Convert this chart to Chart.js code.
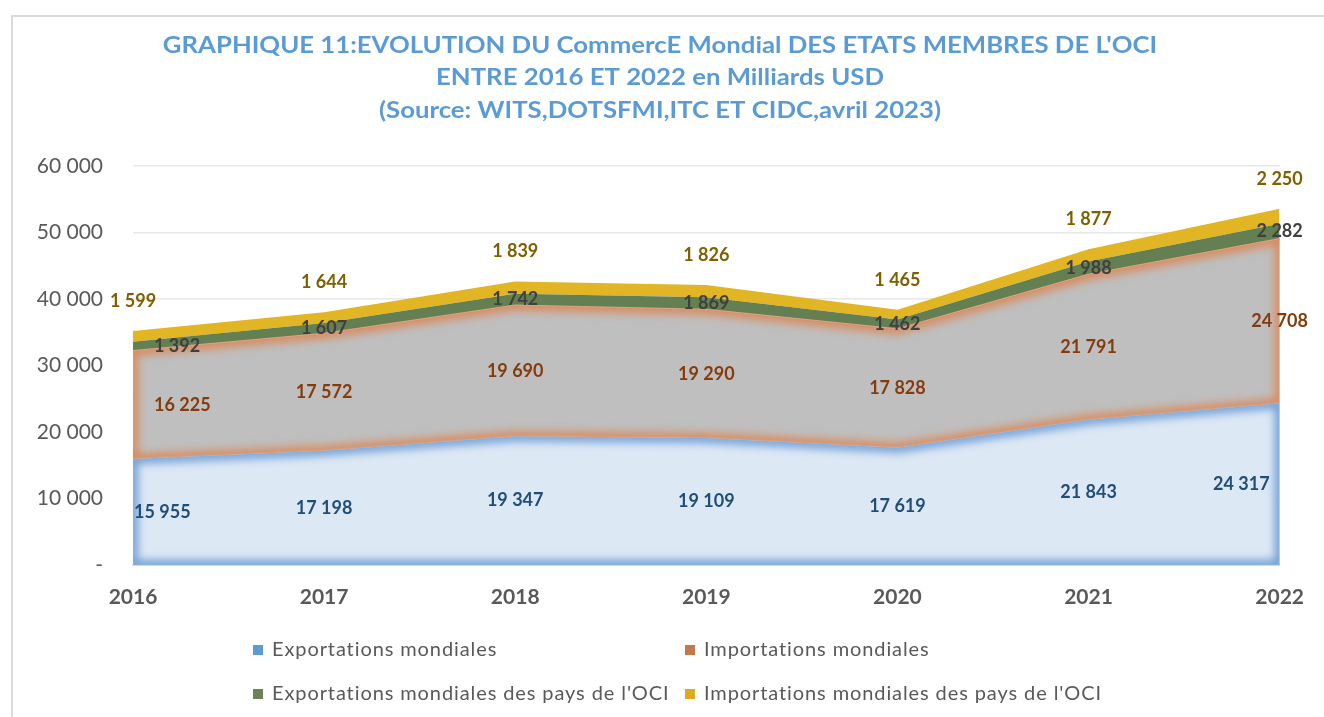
<!DOCTYPE html>
<html>
<head>
<meta charset="utf-8">
<script src="https://cdn.jsdelivr.net/npm/chart.js@4.4.1/dist/chart.umd.min.js"></script>
<style>
  html, body { margin: 0; padding: 0; background: #ffffff; overflow: hidden; }
  #wrap { position: relative; width: 1324px; height: 717px; overflow: hidden; background: #fff; }
  #frame { position: absolute; left: 11px; top: 15px; width: 1340px; height: 730px; border: 2px solid #dadada; box-sizing: border-box; }
  #c { position: absolute; left: 0; top: 0; }
  .lg { position: absolute; font-family: Lato, sans-serif; font-size: 20px; color: #595959; white-space: nowrap; line-height: 24px; letter-spacing: 0.9px; font-variant-ligatures: none; }
  .lg i { display: inline-block; width: 10px; height: 10px; margin-right: 9px; vertical-align: 1px; }
</style>
</head>
<body>
<div id="wrap">
  <div id="frame"></div>
  <canvas id="c" width="1324" height="717"></canvas>
  <div id="legend"></div>
</div>
<script>
// ---- Data ----
const years = ['2016', '2017', '2018', '2019', '2020', '2021', '2022'];
const exportsMondiales = [15955, 17198, 19347, 19109, 17619, 21843, 24317];
const importsMondiales = [16225, 17572, 19690, 19290, 17828, 21791, 24708];
const exportsOCI = [1392, 1607, 1742, 1869, 1462, 1988, 2282];
const importsOCI = [1599, 1644, 1839, 1826, 1465, 1877, 2250];
const yTickValues = [0, 10000, 20000, 30000, 40000, 50000, 60000];
const seriesNames = [
  'Exportations mondiales',
  'Importations mondiales',
  "Exportations mondiales des pays de l'OCI",
  "Importations mondiales des pays de l'OCI"
];
const titleLines = [
  "GRAPHIQUE 11:EVOLUTION DU CommercE Mondial DES ETATS MEMBRES DE L'OCI",
  'ENTRE 2016 ET 2022 en Milliards USD',
  '(Source: WITS,DOTSFMI,ITC ET CIDC,avril 2023)'
];

function fmt(v) {
  return String(Math.round(v)).replace(/\B(?=(\d{3})+(?!\d))/g, ' ');
}

// ---- Styles ----
const styles = [
  { fill: '#dde8f5', border: '#c9dcf0', legend: '#5b9bd5', label: '#1f4e79', glow: '#6f9fd6', pos: 'center', padLeft: 1, clampRight: true },
  { fill: '#bfbfbf', border: '#d8a488', legend: '#c5784a', label: '#843c0c', glow: '#d98a5c', pos: 'center', padLeft: 21, clampRight: false },
  { fill: '#647f52', border: '#647f52', legend: '#6a8458', label: '#404040', glow: null, pos: 'center', padLeft: 21, clampRight: false },
  { fill: '#e2b524', border: '#e2b524', legend: '#dcab1e', label: '#7f6000', glow: null, pos: 'above', padLeft: 0, clampRight: false }
];
const seriesData = [exportsMondiales, importsMondiales, exportsOCI, importsOCI];

const datasets = seriesData.map((d, i) => ({
  label: seriesNames[i],
  data: d,
  backgroundColor: styles[i].fill,
  borderColor: styles[i].border,
  borderWidth: i < 2 ? 2 : 0,
  fill: i === 0 ? 'origin' : '-1',
  pointRadius: 0,
  tension: 0
}));

function bandPath(chart, i) {
  const meta = chart.getDatasetMeta(i);
  const yScale = chart.scales.y;
  const p = new Path2D();
  const top = meta.data;
  top.forEach((pt, j) => { j === 0 ? p.moveTo(pt.x, pt.y) : p.lineTo(pt.x, pt.y); });
  if (i === 0) {
    const y0 = yScale.getPixelForValue(0);
    p.lineTo(top[top.length - 1].x, y0);
    p.lineTo(top[0].x, y0);
  } else {
    const bot = chart.getDatasetMeta(i - 1).data;
    for (let j = bot.length - 1; j >= 0; j--) p.lineTo(bot[j].x, bot[j].y);
  }
  p.closePath();
  return p;
}

const titlePlugin = {
  id: 'stretchedTitle',
  afterDraw(chart) {
    const ctx = chart.ctx;
    const ys = [46, 78, 111];
    ctx.save();
    ctx.font = 'bold 22px Lato, sans-serif';
    ctx.fillStyle = '#5b9bd5';
    ctx.textAlign = 'center';
    ctx.textBaseline = 'middle';
    titleLines.forEach((line, k) => {
      ctx.save();
      ctx.translate(660, ys[k]);
      ctx.scale(1.17, 1);
      ctx.fillText(line, 0, 0);
      ctx.restore();
    });
    ctx.restore();
  }
};

const overlayPlugin = {
  id: 'overlay',
  afterDatasetsDraw(chart) {
    const ctx = chart.ctx;
    const area = chart.chartArea;
    const yScale = chart.scales.y;
    // soft inner edges
    chart.data.datasets.forEach((ds, i) => {
      const st = styles[i];
      if (!st.glow) return;
      const p = bandPath(chart, i);
      ctx.save();
      ctx.clip(p);
      ctx.filter = 'blur(4px)';
      ctx.lineWidth = 10;
      ctx.strokeStyle = st.glow;
      ctx.lineJoin = 'round';
      ctx.stroke(p);
      ctx.restore();
    });
    // data labels
    ctx.save();
    ctx.font = 'bold 18px Lato, sans-serif';
    ctx.textAlign = 'center';
    ctx.textBaseline = 'middle';
    chart.data.datasets.forEach((ds, i) => {
      const st = styles[i];
      const meta = chart.getDatasetMeta(i);
      meta.data.forEach((pt, j) => {
        const txt = fmt(ds.data[j]);
        const w = ctx.measureText(txt).width;
        const bottom = i === 0 ? yScale.getPixelForValue(0) : chart.getDatasetMeta(i - 1).data[j].y;
        let y, x = pt.x;
        if (st.pos === 'center') {
          y = (pt.y + bottom) / 2;
          x = Math.max(x, area.left + w / 2 + st.padLeft);
          if (st.clampRight) x = Math.min(x, area.right - w / 2 - 10);
        } else {
          y = pt.y - 30;
        }
        ctx.fillStyle = st.label;
        ctx.fillText(txt, x, y);
      });
    });
    ctx.restore();
  }
};

const chart = new Chart(document.getElementById('c'), {
  type: 'line',
  data: { labels: years, datasets },
  plugins: [overlayPlugin, titlePlugin],
  options: {
    responsive: false,
    animation: false,
    devicePixelRatio: 1,
    layout: { padding: { left: 0, right: 44, top: 166, bottom: 92 } },
    plugins: {
      legend: { display: false },
      tooltip: { enabled: false },
      title: { display: false }
    },
    scales: {
      x: {
        type: 'category',
        offset: false,
        grid: { display: false, drawTicks: false },
        border: { display: true, color: '#d9d9d9', width: 2 },
        ticks: { color: '#595959', padding: 20, font: { family: 'Lato, sans-serif', size: 21, weight: 'bold' }, maxRotation: 0 },
        afterFit(s) { s.height = 60; }
      },
      y: {
        stacked: true,
        min: 0,
        max: 60000,
        afterBuildTicks(s) { s.ticks = yTickValues.map(v => ({ value: v })); },
        grid: { color: '#e8e8e8', lineWidth: 1.5, drawTicks: false },
        border: { display: false },
        ticks: {
          color: '#595959',
          padding: 30,
          font: { family: 'Lato, sans-serif', size: 21 },
          callback: v => (v === 0 ? '-' : fmt(v))
        },
        afterFit(s) { s.width = 133; }
      }
    }
  }
});

// HTML legend built from datasets
const lgPos = [[253, 636], [685, 636], [253, 680], [685, 680]];
const lg = document.getElementById('legend');
chart.data.datasets.forEach((ds, i) => {
  const d = document.createElement('div');
  d.className = 'lg';
  d.style.left = lgPos[i][0] + 'px';
  d.style.top = lgPos[i][1] + 'px';
  d.innerHTML = '<i style="background:' + styles[i].legend + '"></i>' + ds.label.replace(/&/g, '&amp;').replace(/</g, '&lt;');
  lg.appendChild(d);
});
</script>
</body>
</html>
